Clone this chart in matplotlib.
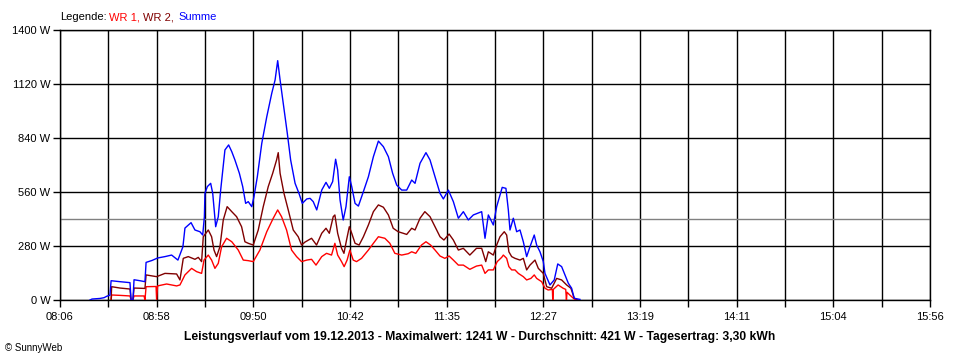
import numpy as np
import matplotlib
matplotlib.use("Agg")
import matplotlib.pyplot as plt


# ── Data (time in minutes after midnight, power in W) ─────────────────────────

SUM_T = [502.2, 503.3, 507.6, 509.8, 511.4, 513.0, 513.6, 518.4, 523.8, 524.4,
         525.4, 526.0, 529.2, 531.9, 532.5, 535.7, 538.8, 542.7, 546.3, 549.7,
         552.4, 553.5, 556.8, 558.9, 561.6, 563.1, 564.0, 564.3, 565.6, 567.4,
         568.5, 570.1, 571.5, 572.8, 575.1, 577.1, 578.8, 580.5, 582.9, 584.7,
         586.3, 587.7, 589.6, 590.8, 592.6, 595.0, 597.7, 600.4, 602.2, 603.6,
         604.9, 606.6, 608.8, 610.6, 613.0, 615.1, 616.9, 619.3, 621.1, 622.8,
         624.7, 627.4, 629.7, 631.5, 633.3, 634.9, 636.0, 637.3, 639.0, 640.5,
         642.3, 643.6, 645.4, 647.2, 649.9, 652.6, 655.3, 658.0, 660.7, 663.4,
         665.7, 667.9, 670.6, 673.3, 676.0, 677.8, 680.5, 683.7, 685.9, 688.6,
         691.3, 693.1, 695.8, 698.5, 701.2, 703.9, 706.6, 709.3, 713.8, 715.6,
         717.4, 720.1, 721.9, 724.9, 726.9, 728.2, 729.1, 730.9, 732.7, 734.5,
         736.3, 738.1, 739.9, 742.2, 743.5, 745.3, 747.1, 748.0, 750.7, 753.0,
         754.9, 757.0, 758.8, 760.6, 762.4, 763.8, 766.9]
SUM_W = [0, 5, 8, 12, 20, 25, 100, 95, 90, 0,
         0, 105, 100, 95, 195, 205, 218, 225, 233, 207,
         276, 373, 401, 363, 354, 337, 432, 553, 588, 605,
         553, 380, 432, 570, 778, 804, 769, 726, 657, 588,
         501, 510, 484, 536, 639, 812, 950, 1072, 1141, 1241,
         1141, 1020, 864, 726, 605, 553, 501, 524, 527, 510,
         467, 570, 610, 579, 614, 730, 674, 518, 415, 484,
         639, 588, 501, 487, 562, 639, 743, 824, 795, 743,
         657, 596, 570, 570, 622, 605, 709, 764, 726, 639,
         553, 524, 570, 510, 424, 458, 415, 441, 458, 320,
         441, 389, 484, 584, 579, 467, 363, 424, 354, 363,
         302, 225, 276, 337, 285, 250, 199, 138, 78, 104,
         187, 173, 130, 87, 61, 9, 3]

WR2_T = [513.6, 513.9, 518.4, 523.8, 524.4, 525.4, 526.0, 531.9, 532.5, 538.2,
         542.7, 549.0, 550.8, 552.6, 555.3, 558.9, 560.7, 562.5, 563.4, 566.1,
         567.9, 569.2, 570.6, 572.4, 574.2, 576.3, 578.8, 581.4, 584.1, 585.9,
         587.7, 590.4, 593.1, 595.8, 598.5, 600.9, 603.0, 603.9, 604.9, 607.0,
         609.3, 612.0, 614.7, 616.5, 618.3, 621.9, 624.6, 627.4, 629.7, 631.5,
         633.6, 634.5, 636.0, 638.1, 639.4, 640.8, 642.3, 643.6, 645.4, 647.6,
         649.9, 652.6, 655.3, 658.0, 660.7, 663.4, 666.0, 668.7, 671.4, 673.3,
         676.0, 677.8, 680.5, 683.1, 685.9, 688.6, 691.3, 693.4, 696.2, 698.5,
         701.2, 703.9, 707.4, 711.0, 713.8, 716.0, 717.4, 720.1, 721.9, 723.7,
         726.0, 727.3, 728.5, 730.0, 731.8, 734.5, 736.3, 738.1, 739.9, 742.6,
         744.4, 747.1, 748.9, 751.6, 754.3, 757.0, 759.7, 762.0, 763.8, 765.8]
WR2_W = [0, 69, 62, 57, 0, 0, 62, 60, 130, 121,
         138, 135, 104, 216, 225, 211, 221, 199, 328, 363,
         328, 259, 225, 276, 415, 484, 458, 432, 380, 302,
         294, 285, 363, 484, 588, 657, 726, 764, 657, 553,
         467, 363, 328, 285, 300, 320, 285, 346, 372, 346,
         432, 441, 346, 268, 242, 311, 380, 346, 294, 285,
         328, 389, 458, 493, 481, 441, 372, 354, 346, 340,
         372, 363, 424, 458, 432, 380, 328, 311, 342, 311,
         259, 268, 233, 268, 268, 199, 250, 233, 285, 328,
         354, 337, 250, 225, 216, 207, 216, 156, 181, 207,
         164, 138, 69, 61, 112, 104, 78, 61, 9, 0]

WR1_T = [513.6, 513.9, 518.4, 523.8, 524.4, 525.4, 526.0, 531.4, 531.9, 532.5,
         537.9, 538.2, 538.7, 543.6, 549.0, 550.8, 553.5, 557.1, 559.8, 562.5,
         563.8, 566.1, 567.9, 569.7, 571.5, 573.3, 576.0, 578.8, 582.3, 585.0,
         587.7, 590.4, 594.0, 597.7, 601.2, 603.6, 605.7, 608.4, 611.1, 613.8,
         616.5, 619.3, 621.9, 624.3, 627.4, 630.0, 632.7, 634.5, 636.0, 638.1,
         639.5, 641.1, 642.6, 644.4, 646.2, 648.9, 652.6, 655.3, 658.0, 661.5,
         664.2, 666.9, 670.6, 674.1, 676.0, 678.2, 681.3, 683.7, 686.2, 688.6,
         691.3, 693.9, 696.2, 698.5, 701.2, 703.9, 707.4, 711.0, 713.8, 715.6,
         717.4, 720.1, 722.2, 724.6, 725.5, 727.3, 728.5, 730.0, 731.8, 733.6,
         736.3, 738.1, 740.4, 742.2, 743.5, 746.2, 748.0, 749.7, 752.0, 752.2,
         752.5, 755.1, 757.8, 759.2, 759.6, 759.9, 761.4, 763.8, 764.8]
WR1_W = [0, 26, 24, 21, 0, 0, 21, 21, 0, 69,
         70, 0, 73, 83, 73, 78, 130, 164, 147, 138,
         207, 233, 207, 164, 190, 276, 320, 302, 259, 207,
         204, 199, 259, 354, 424, 467, 432, 363, 259, 225,
         199, 207, 211, 181, 225, 242, 233, 294, 233, 199,
         173, 207, 259, 207, 199, 216, 259, 294, 328, 320,
         294, 242, 233, 240, 250, 242, 285, 302, 285, 259,
         228, 216, 228, 207, 181, 181, 159, 176, 181, 138,
         156, 156, 199, 221, 233, 216, 173, 156, 156, 138,
         121, 104, 112, 130, 112, 95, 61, 52, 55, 0,
         55, 78, 61, 55, 0, 40, 26, 5, 0]

AVERAGE_W = 421
X_LABELS = ["08:06", "08:58", "09:50", "10:42", "11:35", "12:27",
            "13:19", "14:11", "15:04", "15:56"]
Y_LABELS = ["0 W", "280 W", "560 W", "840 W", "1120 W", "1400 W"]
TITLE = ("Leistungsverlauf vom 19.12.2013 - Maximalwert: 1241 W - "
         "Durchschnitt: 421 W - Tagesertrag: 3,30 kWh")


# ── Plot ──────────────────────────────────────────────────────────────────────

plt.rcParams["font.family"] = ["Liberation Sans", "DejaVu Sans"]

fig = plt.figure(figsize=(9.6, 3.6), dpi=100)
ax = fig.add_axes([60 / 960, 1 - 300 / 360, 870 / 960, 270 / 360])

t0, t1 = 486, 956
ax.set_xlim(t0, t1)
ax.set_ylim(0, 1400)

# grid: 18 time intervals (labelled every second one), 5 power intervals
x_grid = np.linspace(t0, t1, 19)
y_grid = np.linspace(0, 1400, 6)
for xg in x_grid:
    ax.axvline(xg, color="black", lw=1.0, zorder=1)
for yg in y_grid:
    ax.axhline(yg, color="black", lw=1.0, zorder=1)
ax.axhline(AVERAGE_W, color="#808080", lw=1.0, zorder=2)

ax.plot(WR1_T, WR1_W, color="#ff0000", lw=1.0, zorder=3)
ax.plot(WR2_T, WR2_W, color="#800000", lw=1.0, zorder=4)
ax.plot(SUM_T, SUM_W, color="#0000ff", lw=1.0, zorder=5)

xlabels = []
for lab in X_LABELS:
    xlabels += [lab, ""]
ax.set_xticks(x_grid)
ax.set_xticklabels(xlabels[:19])
ax.set_yticks(y_grid)
ax.set_yticklabels(Y_LABELS)
ax.tick_params(axis="both", length=5, width=1, color="black", labelsize=8, pad=4)
ax.tick_params(axis="y", pad=2)
for s in ax.spines.values():
    s.set_color("black")
    s.set_linewidth(1.0)

fig.text(480 / 960, 1 - 337 / 360, TITLE, ha="center", va="center",
         fontsize=8.7, fontweight="bold")
fig.text(5 / 960, 1 - 348 / 360, "© SunnyWeb", ha="left", va="center", fontsize=7)

leg_y = 1 - 17 / 360
fig.text(60 / 960, leg_y, "Legende:", ha="left", va="center", fontsize=8, color="black")
fig.text(109 / 960, leg_y, "WR 1,", ha="left", va="center", fontsize=8, color="#ff0000")
fig.text(143 / 960, leg_y, "WR 2,", ha="left", va="center", fontsize=8, color="#800000")
fig.text(178 / 960, leg_y, "Summe", ha="left", va="center", fontsize=8, color="#0000ff")

fig.savefig("out.png", dpi=100, facecolor="white")
